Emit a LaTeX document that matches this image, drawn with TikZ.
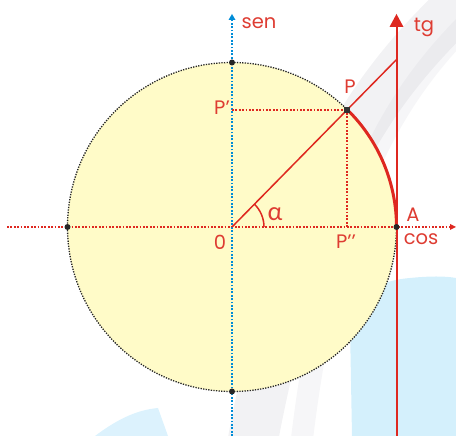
\documentclass[tikz,border=0pt]{standalone}
\usepackage{fontspec}
\setmainfont{Poppins}
\newfontfamily\grk{Lato}
\usetikzlibrary{arrows.meta,calc}
\definecolor{tred}{RGB}{222,40,32}
\definecolor{ttxt}{RGB}{222,60,50}
\definecolor{tblue}{RGB}{0,140,215}
\definecolor{tyel}{RGB}{255,251,200}
\definecolor{tbg}{RGB}{196,196,206}
\definecolor{tlb}{RGB}{205,237,252}
\tikzset{
  lbl/.style={text=ttxt,font=\fontsize{19.5}{19.5}\selectfont,inner sep=0pt},
  reddot/.style={draw=tred,line width=1.8pt,dash pattern=on 1.8pt off 1.6pt},
  bluedot/.style={draw=tblue,line width=1.8pt,dash pattern=on 1.8pt off 1.6pt},
  bdot/.style={circle,fill=black!85,inner sep=0pt,minimum size=6pt}
}
\begin{document}
\begin{tikzpicture}[x=1pt,y=1pt]
\useasboundingbox (0,0) rectangle (456,436);
% background decoration
\fill[tlb,opacity=0.85] (352,0) -- (350,110) .. controls (352,140) and (375,155) .. (410,158) .. controls (430,160) and (445,160) .. (456,158) -- (456,0) -- cycle;
\fill[tlb,opacity=0.7] (95,0) .. controls (115,15) and (135,26) .. (158,28) -- (168,0) -- cycle;
\draw[tbg,opacity=0.22,line width=50pt] (480,450) .. controls (380,360) and (300,260) .. (250,-20);
\draw[tbg,opacity=0.15,line width=22pt] (485,430) .. controls (400,350) and (330,250) .. (300,-20);
% circle
\coordinate (O) at (232,209);
\fill[tyel] (O) circle[radius=164.5];
\draw[black!85,line width=1.3pt,dash pattern=on 1.3pt off 1.3pt] (O) circle[radius=164.5];
% coordinates
\coordinate (A) at (396.5,209);
\coordinate (P) at (347.3,326.3);
\coordinate (T) at (396.5,376.4);
\coordinate (Pp) at (232,326.3);
\coordinate (Ppp) at (347.3,209);
\coordinate (Top) at (232,373.5);
\coordinate (Bot) at (232,44.5);
\coordinate (Lft) at (67.5,209);
\coordinate (xs) at (7,209);
\coordinate (xe) at (456,209);
\coordinate (ys) at (232,0);
\coordinate (ye) at (232,422);
\coordinate (ts) at (396.5,0);
\coordinate (te) at (396.5,422);
% axes
\draw[reddot] (xs) -- (452,209);
\fill[tred] (xe) -- ++(-6,3) -- ++(0,-6) -- cycle;
\draw[bluedot] (ys) -- (232,416);
\fill[tblue] (ye) -- ++(-3.5,-6) -- ++(7,0) -- cycle;
\draw[tred,line width=2pt] (ts) -- (396.5,412);
\fill[tred] (te) -- ++(-7,-13) -- ++(14,0) -- cycle;
% projections
\draw[reddot] (Pp) -- (P);
\draw[reddot] (P) -- (Ppp);
% radius and tangent line
\draw[tred,line width=1.5pt] (O) -- (T);
\draw[tred,line width=3pt] (A) arc[start angle=0,end angle=45.5,radius=164.5];
\draw[tred,line width=1.5pt] ($(O)+(32,0)$) arc[start angle=0,end angle=45.5,radius=32];
% dots
\node[bdot] (nTop) at (Top) {};
\node[bdot] (nBot) at (Bot) {};
\node[bdot] (nL) at (Lft) {};
\node[bdot] (nA) at (A) {};
\fill[black!80] ($(P)+(-3,-3)$) rectangle ($(P)+(3,3)$);
% labels
\node[lbl] (lsen) at (259,413) {sen};
\node[lbl] (ltg) at (424,409) {tg};
\node[lbl] (lP) at (350,349) {P};
\node[lbl] (lPp) at (222,328) {P’};
\node[lbl,font=\fontsize{25}{25}\selectfont] (lal) at (275,222) {\grk α};
\node[lbl] (l0) at (220,194) {0};
\node[lbl] (lPpp) at (346,194) {P’’};
\node[lbl] (lA) at (413,221) {A};
\node[lbl] (lcos) at (421,197) {cos};
\end{tikzpicture}
\end{document}
